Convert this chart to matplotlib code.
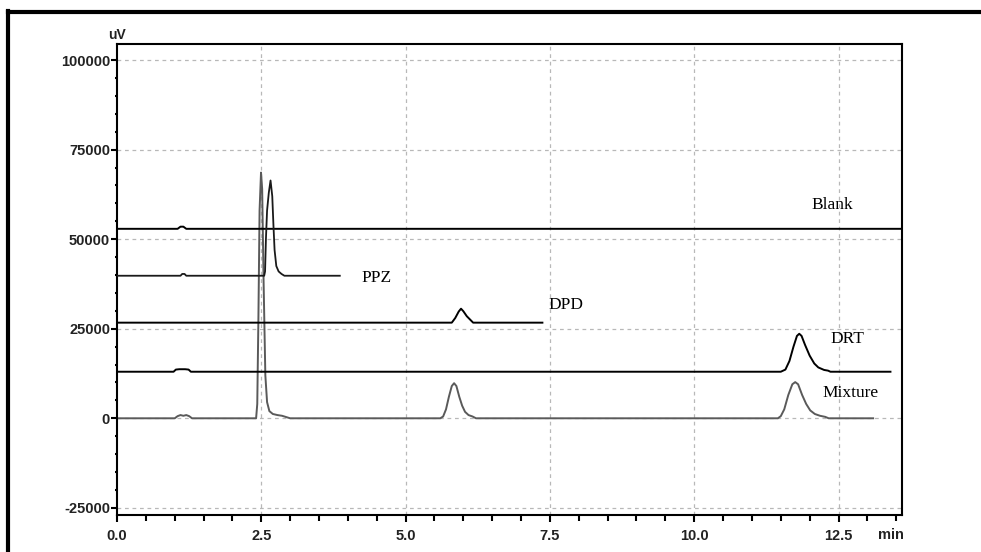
import numpy as np
import matplotlib
matplotlib.use("Agg")
import matplotlib.pyplot as plt
from matplotlib.lines import Line2D
from matplotlib.ticker import MultipleLocator, FixedLocator

# chromatogram traces: (time in min, signal in uV)
blank_t = [0.0, 1.05, 1.1, 1.15, 1.2, 13.6]
blank_y = [52900, 52900, 53500, 53500, 52900, 52900]

ppz_t = [0.0, 1.1, 1.13, 1.17, 1.2, 2.55, 2.565, 2.58, 2.6, 2.63, 2.66, 2.69,
         2.71, 2.73, 2.76, 2.8, 2.85, 2.9, 3.86]
ppz_y = [39800, 39800, 40300, 40300, 39800, 39800, 41000, 50000, 58000, 63000,
         66400, 62000, 54000, 47000, 42500, 41000, 40300, 39800, 39800]

dpd_t = [0.0, 5.8, 5.86, 5.92, 5.96, 6.0, 6.06, 6.17, 7.37]
dpd_y = [26700, 26700, 28000, 29800, 30600, 29900, 28500, 26700, 26700]

drt_t = [0.0, 0.98, 1.02, 1.08, 1.18, 1.24, 1.28, 11.5, 11.58, 11.65, 11.72,
         11.78, 11.82, 11.86, 11.92, 12.0, 12.08, 12.15, 12.25, 12.32, 12.36, 13.4]
drt_y = [13000, 13000, 13600, 13700, 13700, 13600, 13000, 13000, 13600, 16000,
         20000, 23000, 23600, 23000, 20500, 17500, 15300, 14200, 13500, 13300,
         13000, 13000]

mix_t = [0.0, 1.0, 1.05, 1.1, 1.15, 1.2, 1.25, 1.3, 2.41, 2.43, 2.45, 2.47,
         2.495, 2.515, 2.54, 2.57, 2.6, 2.64, 2.7, 2.78, 2.86, 2.92, 3.0,
         5.6, 5.65, 5.7, 5.75, 5.8, 5.84, 5.88, 5.93, 5.98, 6.03, 6.09, 6.16, 6.22,
         11.45, 11.5, 11.56, 11.63, 11.7, 11.75, 11.8, 11.87, 11.94, 12.01,
         12.09, 12.18, 12.27, 12.33, 13.1]
mix_y = [0, 0, 600, 900, 700, 900, 600, 0, 0, 4000, 28000, 58000,
         68600, 64000, 38000, 12000, 4500, 2000, 1200, 900, 700, 400, 0,
         0, 500, 2500, 6000, 9000, 9800, 9000, 6000, 3500, 1800, 900, 500, 0,
         0, 600, 2500, 6500, 9500, 10100, 9500, 6500, 4000, 2200,
         1200, 700, 400, 0, 0]

labels = ["Blank", "PPZ", "DPD", "DRT", "Mixture"]
label_t = [12.4, 4.5, 7.77, 12.65, 12.7]
label_y = [59600, 39200, 31600, 22100, 7000]

x_major = [0.0, 2.5, 5.0, 7.5, 10.0, 12.5]
y_major = [-25000, 0, 25000, 50000, 75000, 100000]

fig = plt.figure(figsize=(9.81, 5.52), dpi=100)
ax = fig.add_axes([117 / 981, 1 - 515 / 552, (902 - 117) / 981, (515 - 44) / 552])

ax.set_xlim(0, 13.6)
ax.set_ylim(-27000, 104500)

grid_kw = dict(color="#b8b8b8", lw=0.9, ls=(0, (3, 3)), zorder=0)
for v in x_major[1:]:
    ax.axvline(v, **grid_kw)
for v in y_major:
    ax.axhline(v, **grid_kw)

ax.plot(blank_t, blank_y, color="black", lw=1.4, zorder=3)
ax.plot(ppz_t, ppz_y, color="#1a1a1a", lw=1.3, zorder=3)
ax.plot(dpd_t, dpd_y, color="black", lw=1.4, zorder=3)
ax.plot(drt_t, drt_y, color="black", lw=1.4, zorder=3)
ax.plot(mix_t, mix_y, color="#5a5a5a", lw=1.4, zorder=2)

for name, t, y in zip(labels, label_t, label_y):
    ax.text(t, y, name, ha="center", va="center", fontsize=12.5,
            family="Liberation Serif", color="black")

ax.xaxis.set_major_locator(FixedLocator(x_major))
ax.xaxis.set_minor_locator(MultipleLocator(0.5))
ax.yaxis.set_major_locator(FixedLocator(y_major))
ax.yaxis.set_minor_locator(MultipleLocator(5000))
ax.set_xticklabels([f"{v:.1f}" for v in x_major])
ax.set_yticklabels([str(v) for v in y_major])

ax.tick_params(axis="both", which="both", direction="out", colors="black",
               labelsize=10.5)
ax.tick_params(axis="x", which="major", length=5, width=1.5, pad=5)
ax.tick_params(axis="x", which="minor", length=4, width=1.5)
ax.tick_params(axis="y", which="major", length=4, width=1.5, pad=1)
ax.tick_params(axis="y", which="minor", length=1.5, width=1.5)
for lab in ax.get_xticklabels() + ax.get_yticklabels():
    lab.set_family("Liberation Sans")
    lab.set_fontweight("bold")
    lab.set_color("#222222")

for s in ax.spines.values():
    s.set_linewidth(1.5)
    s.set_color("black")

fig.text(117 / 981, 1 - 35 / 552, "uV", ha="center", va="center",
         fontsize=10, family="Liberation Sans", fontweight="bold", color="#222222")
fig.text(891 / 981, 1 - 535 / 552, "min", ha="center", va="center",
         fontsize=10.5, family="Liberation Sans", fontweight="bold", color="#222222")

# outer frame (left and top edges)
fig.add_artist(Line2D([8 / 981, 8 / 981], [0, 1 - 11 / 552], color="black",
                      lw=3, transform=fig.transFigure))
fig.add_artist(Line2D([8 / 981, 1], [1 - 12 / 552, 1 - 12 / 552], color="black",
                      lw=3, transform=fig.transFigure))

fig.savefig("out.png", dpi=100)
